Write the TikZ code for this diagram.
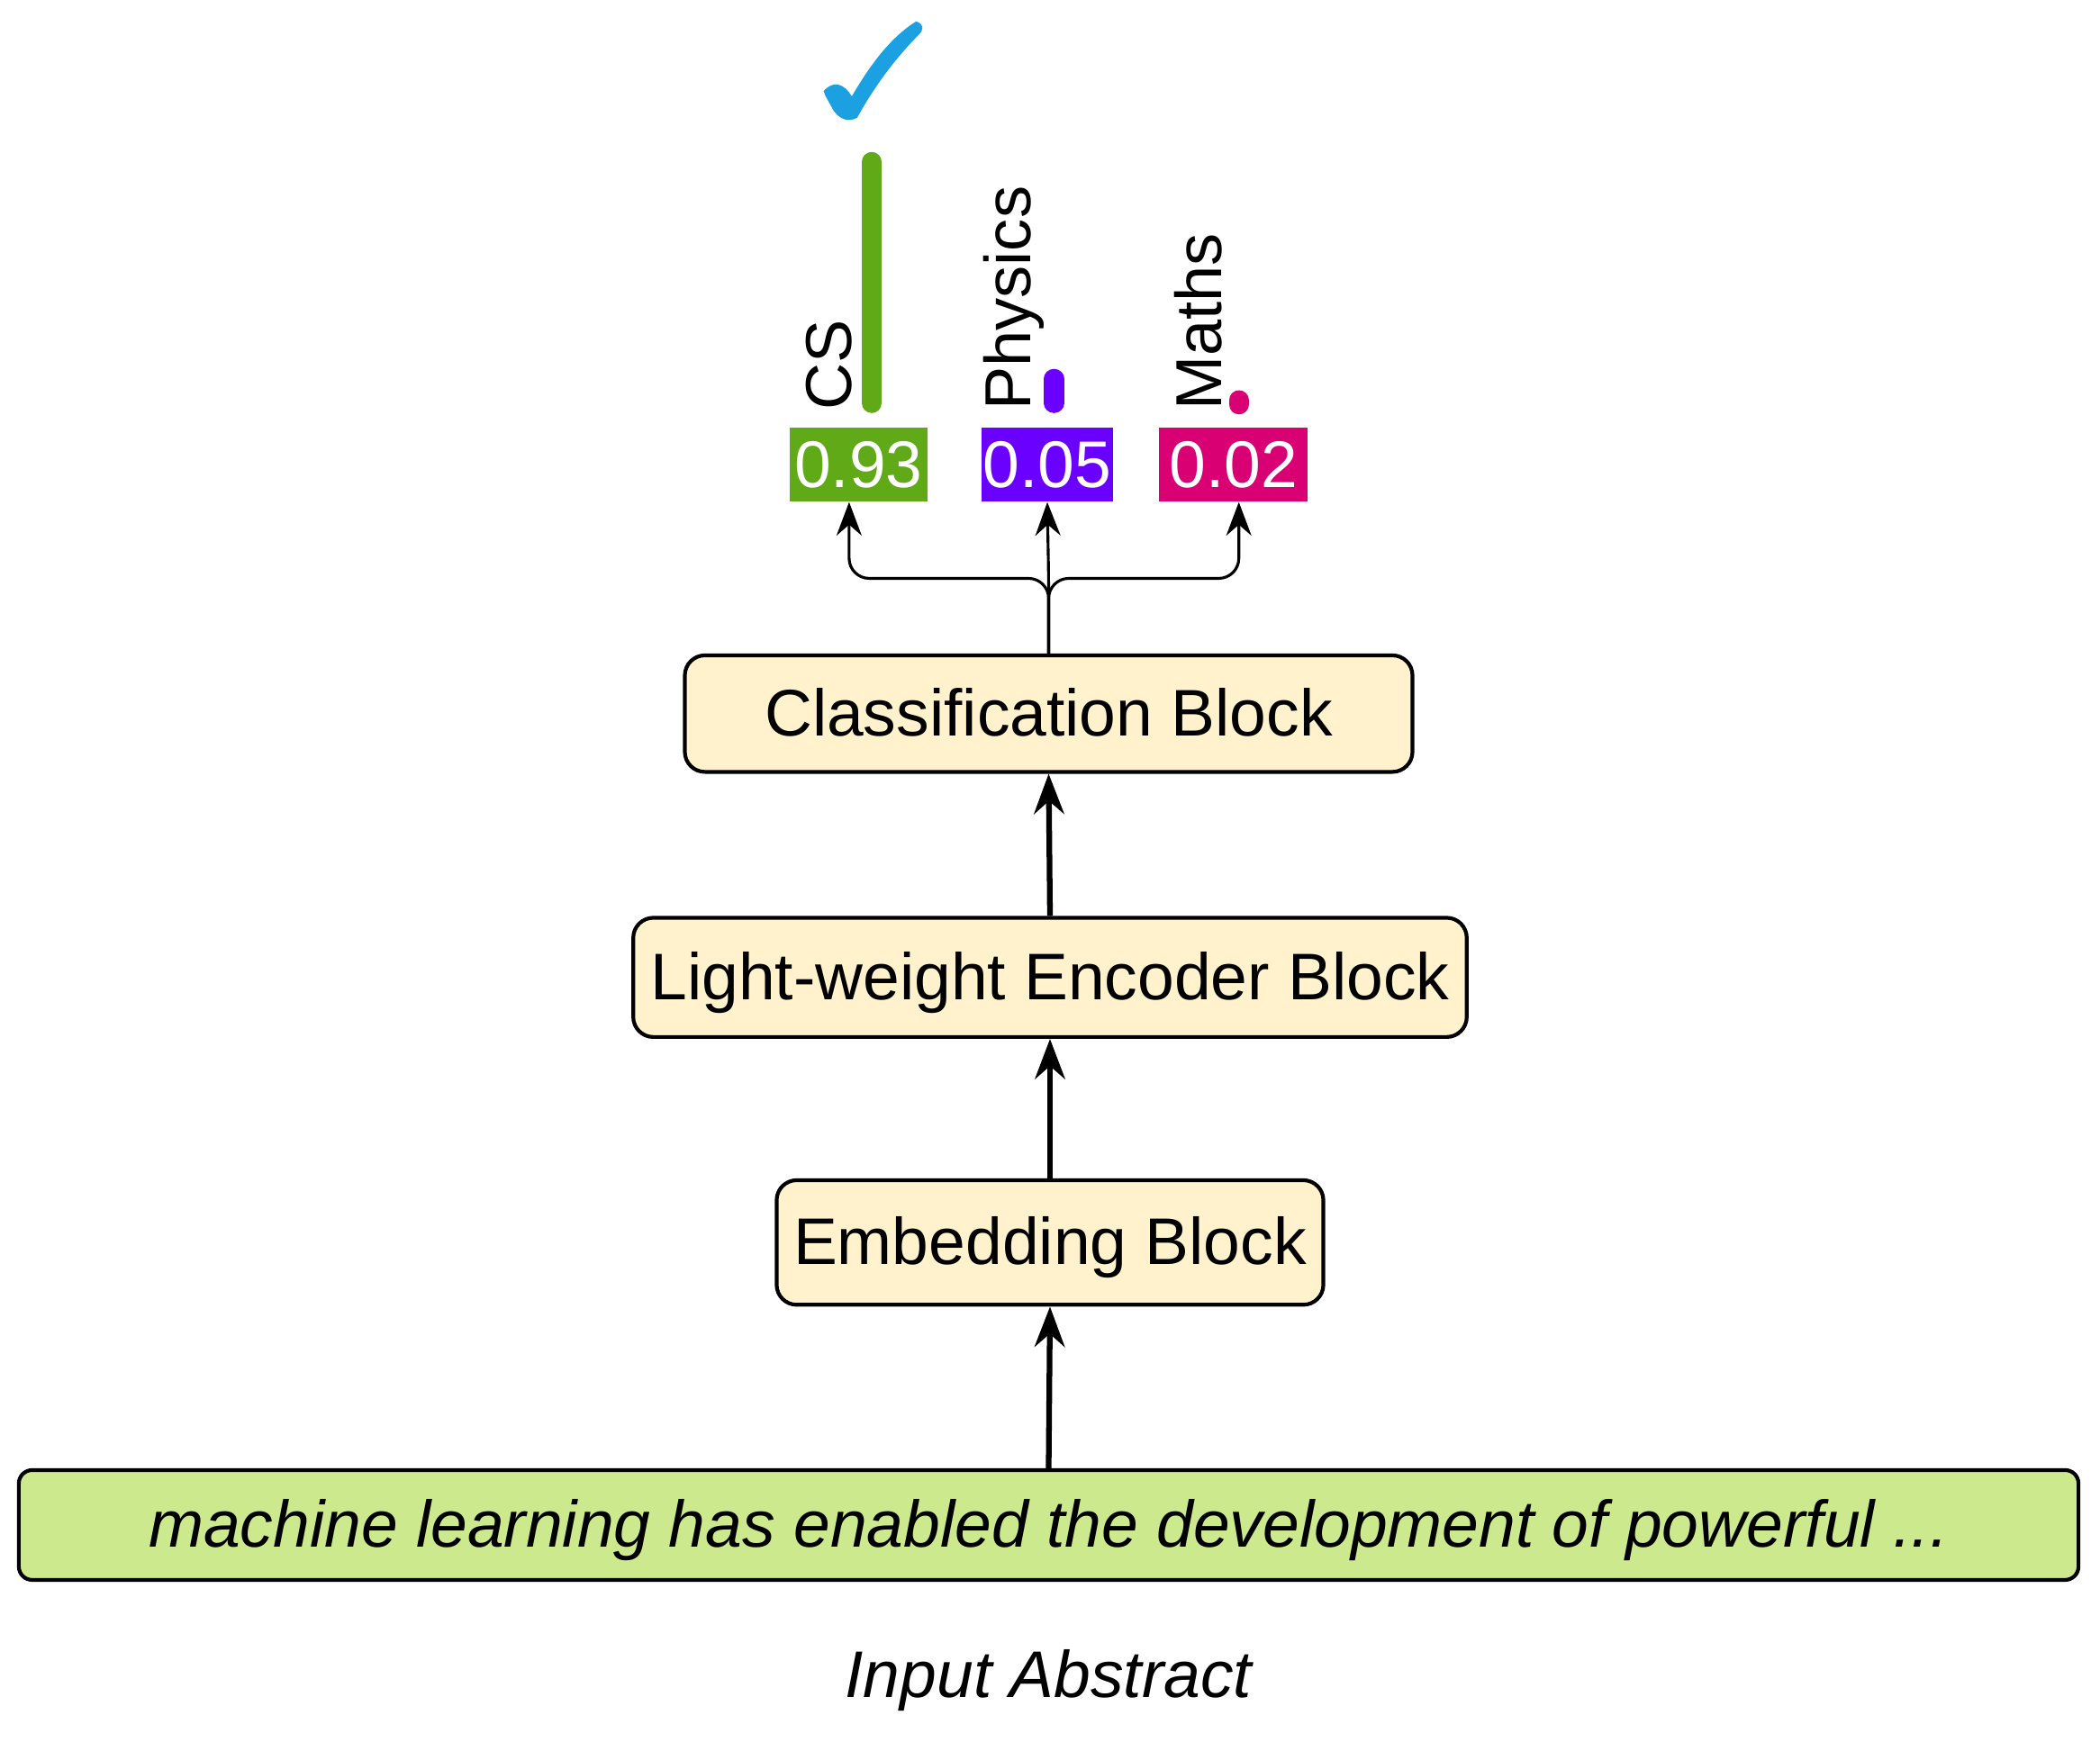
\documentclass[tikz,border=0pt]{standalone}
\usepackage{fontspec}
\setmainfont{Liberation Sans}
\usetikzlibrary{arrows.meta}
\definecolor{blk}{HTML}{FFF2CC}
\definecolor{inp}{HTML}{CDE98D}
\definecolor{gr}{HTML}{60A917}
\definecolor{pu}{HTML}{6A00FF}
\definecolor{pk}{HTML}{D80073}
\definecolor{bl}{HTML}{1BA1E2}
\begin{document}
\begin{tikzpicture}[x=0.01cm,y=-0.01cm,
  block/.style={draw,line width=0.8pt,rounded corners=1.5mm,fill=blk,font=\fontsize{14}{16}\selectfont,text height=0.95em,text depth=0pt},
  score/.style={fill=#1,text=white,inner sep=0pt,font=\fontsize{14}{16}\selectfont},
  lab/.style={rotate=90,anchor=south west,inner sep=0pt,font=\fontsize{13.8}{15}\selectfont},
  bar/.style={line width=1.5mm,line cap=round,draw=#1},
  thick arr/.style={-{Stealth[length=3mm]},line width=1.2pt},
  thin arr/.style={-{Stealth[length=2.5mm]},line width=0.6pt,rounded corners=1.5mm}]
\useasboundingbox (0,0) rectangle (1568,1301);
\node[draw,line width=0.8pt,rounded corners=1mm,fill=inp,minimum width=15.37cm,minimum height=0.82cm,text height=0.95em,text depth=0pt,font=\fontsize{14}{16}\selectfont\itshape] (inp) at (783,1139) {machine learning has enabled the development of powerful ...};
\node[font=\fontsize{14}{16}\selectfont\itshape] (cap) at (783,1255) {Input Abstract};
\node[block,minimum width=4.08cm,minimum height=0.93cm] (emb) at (784,928) {Embedding Block};
\node[block,minimum width=6.22cm,minimum height=0.89cm] (enc) at (784,730) {Light-weight Encoder Block};
\node[block,minimum width=5.43cm,minimum height=0.87cm] (cls) at (783,533) {Classification Block};
\draw[thick arr] (inp.north) -- (emb.south);
\draw[thick arr] (emb.north) -- (enc.south);
\draw[thick arr] (enc.north) -- (cls.south);
\node[score=gr,minimum width=1.03cm,minimum height=0.55cm] (s1) at (641,347) {0.93};
\node[score=pu,minimum width=0.98cm,minimum height=0.55cm] (s2) at (782,347) {0.05};
\node[score=pk,minimum width=1.11cm,minimum height=0.55cm] (s3) at (921,347) {0.02};
\coordinate (j) at (783,432);
\draw[thin arr] (cls.north) -- (j) -| (634,375);
\draw[thin arr] (cls.north) -- (j) -- (782,375);
\draw[thin arr] (cls.north) -- (j) -| (925,375);
\draw[bar=gr] (651,121) -- (651,301);
\draw[bar=pu] (787,283) -- (787,301);
\draw[bar=pk] (925,299) -- (925,302);
\node[lab] (l1) at (637,307) {CS};
\node[lab] (l2) at (780,307) {Physics};
\node[lab] (l3) at (913,307) {Maths};
\fill[bl] (615,68) .. controls (622,60) and (630,62) .. (636,72)
  .. controls (650,48) and (665,28) .. (684,16)
  .. controls (690,18) and (690,22) .. (686,26)
  .. controls (668,44) and (652,66) .. (640,88)
  .. controls (632,92) and (626,88) .. (622,82)
  .. controls (619,76) and (616,72) .. (615,68) -- cycle;
\end{tikzpicture}
\end{document}
